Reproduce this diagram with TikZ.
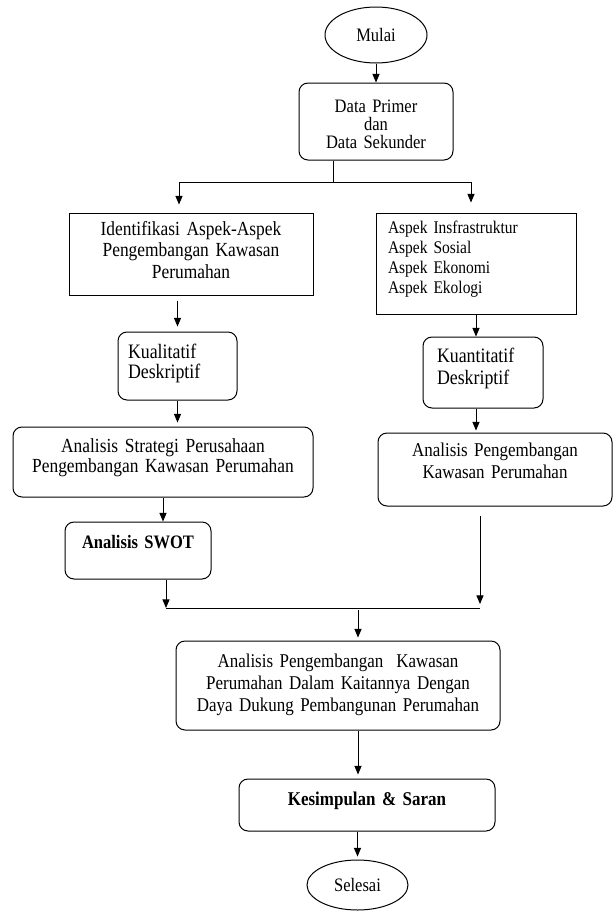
\documentclass[tikz,border=0pt]{standalone}
\usepackage{fontspec}
\setmainfont[FakeStretch=0.87, WordSpace=0.85]{Liberation Serif}
\usetikzlibrary{shapes.geometric, arrows}
\tikzstyle{startstop} = [ellipse, draw=black, line width=1pt, inner sep=0pt, text centered, font=\fontsize{19}{18}\selectfont]
\tikzstyle{process} = [rectangle, rounded corners=9pt, draw=black, line width=1pt, inner xsep=0pt, inner ysep=0pt, align=center, font=\fontsize{20}{21.5}\selectfont]
\tikzstyle{sharpbox} = [process, sharp corners]
\tikzstyle{arrow} = [line width=1pt,->,>=triangle 45]
\tikzstyle{joinline} = [line width=1pt]

\begin{document}
\begin{tikzpicture}[x=1pt, y=-1pt]
\useasboundingbox (0,0) rectangle (613,911);

\node (startG) [startstop, minimum width=102pt, minimum height=56pt] at (376,35) {Mulai};
\node (dataIn) [process, text width=154pt, text height=29pt, text depth=48pt, font=\fontsize{19}{18}\selectfont] at (376,121.5) {Data Primer\\dan\\Data Sekunder};

% kolom kiri
\node (identify) [sharpbox, text width=244pt, text height=22pt, text depth=60pt] at (191,254) {Identifikasi Aspek-Aspek\\Pengembangan Kawasan\\Perumahan};
\node (qualDesc) [process, align=left, inner xsep=10pt, text width=99pt, text height=26pt, text depth=42pt, font=\fontsize{20.5}{20}\selectfont] at (177.5,366) {Kualitatif\\Deskriptif};
\node (strategy) [process, text width=300pt, text height=25pt, text depth=45pt, font=\fontsize{20}{20}\selectfont] at (163,462) {Analisis Strategi Perusahaan\\Pengembangan Kawasan Perumahan};
\node (swot) [process, text width=146pt, text height=26pt, text depth=31pt, font=\fontsize{19}{20}\selectfont\bfseries] at (138,550.5) {Analisis SWOT};

% kolom kanan
\node (aspects) [sharpbox, align=left, inner xsep=12pt, text width=176pt, text height=20pt, text depth=81pt, font=\fontsize{17.8}{20}\selectfont] at (476,263.5) {Aspek Insfrastruktur\\Aspek Sosial\\Aspek Ekonomi\\Aspek Ekologi};
\node (quanDesc) [process, align=left, inner xsep=14pt, text width=92pt, text height=25pt, text depth=46pt, font=\fontsize{20.5}{22}\selectfont] at (483,372.5) {Kuantitatif\\Deskriptif};
\node (devAnalysis) [process, text width=234pt, text height=23pt, text depth=50pt, font=\fontsize{19.5}{22}\selectfont] at (495,469.5) {Analisis Pengembangan\\Kawasan Perumahan};

% bagian bawah
\node (finalAnalysis) [process, text width=324pt, text height=26pt, text depth=63pt, font=\fontsize{19.5}{22}\selectfont] at (338,685.5) {Analisis Pengembangan~ Kawasan\\Perumahan Dalam Kaitannya Dengan\\Daya Dukung Pembangunan Perumahan};
\node (conclusion) [process, text width=256pt, text height=26pt, text depth=26pt, font=\fontsize{19.5}{20}\selectfont\bfseries] at (367,805) {Kesimpulan \& Saran};
\node (endG) [startstop, minimum width=101pt, minimum height=50pt] at (357.5,885) {Selesai};

\coordinate (branchTop) at (333,182);
\coordinate (branchL) at (179,182);
\coordinate (branchR) at (471,182);
\coordinate (joinL) at (166,608);
\coordinate (joinR) at (480,608);
\coordinate (joinC) at (358,608);

\draw [arrow] (startG) -- (dataIn);
\draw [joinline] (branchTop |- dataIn.south) -- (branchTop);
\draw [joinline] (branchL) -- (branchR);
\draw [arrow, shorten >=8pt] (branchL) -- (branchL |- identify.north);
\draw [arrow, shorten >=10pt] (branchR) -- (branchR |- aspects.north);
\draw [arrow, shorten <=5pt, shorten >=5pt] (qualDesc.north |- identify.south) -- (qualDesc.north);
\draw [arrow, shorten >=4pt] (qualDesc.south) -- (qualDesc.south |- strategy.north);
\draw [arrow] (strategy.south) -- (strategy.south |- swot.north);
\draw [arrow] (joinL |- swot.south) -- (joinL);
\draw [arrow] (aspects.south) -- (aspects.south |- quanDesc.north);
\draw [arrow, shorten >=2pt] (aspects.south |- quanDesc.south) -- (aspects.south |- devAnalysis.north);
\draw [arrow, shorten <=9pt, shorten >=4pt] (joinR |- devAnalysis.south) -- (joinR);
\draw [joinline] (joinL) -- (joinR);
\draw [arrow, shorten <=2pt, shorten >=3pt] (joinC) -- (joinC |- finalAnalysis.north);
\draw [arrow, shorten >=4pt] (joinC |- finalAnalysis.south) -- (joinC |- conclusion.north);
\draw [arrow, shorten >=3pt] (endG.north |- conclusion.south) -- (endG.north);

\end{tikzpicture}
\end{document}
